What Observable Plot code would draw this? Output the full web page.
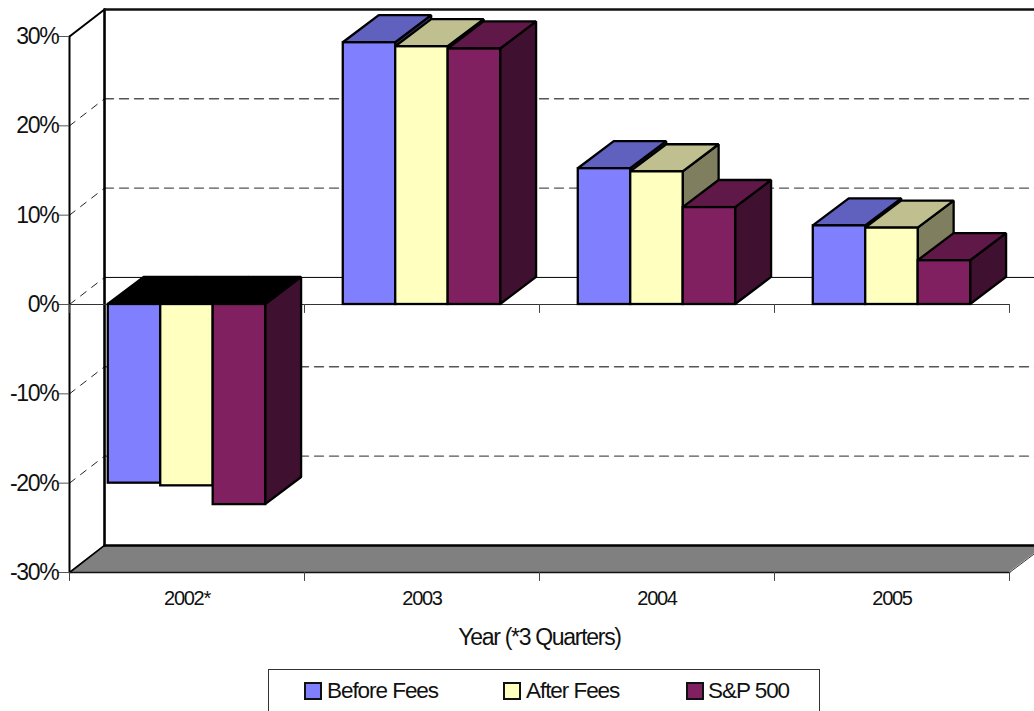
<!DOCTYPE html>
<html>
<head>
<meta charset="utf-8">
<script src="https://cdn.jsdelivr.net/npm/d3@7"></script>
<script src="https://cdn.jsdelivr.net/npm/@observablehq/plot@0.6"></script>
<style>
html,body{margin:0;padding:0;background:#fff;overflow:hidden}
svg{display:block}
#legend{position:relative;box-sizing:border-box;margin:9px 0 0 268px;width:552px;height:50px;border:1px solid #333;
  font-family:"Liberation Sans",Arial,sans-serif;font-size:22.5px;letter-spacing:-1.05px;color:#111}
#legend i{position:absolute;top:12px;width:14px;height:14px;border:2px solid #111;display:block}
#legend span{position:absolute;top:8px;line-height:26px;white-space:nowrap}
</style>
</head>
<body>
<div id="chart"></div>
<div id="legend"></div>
<script>
const years = ["2002*", "2003", "2004", "2005"];
const beforeFees = [-20.0, 29.3, 15.2, 8.8];
const afterFees = [-20.3, 28.85, 14.85, 8.55];
const sp500 = [-22.4, 28.6, 10.85, 4.9];
const seriesNames = ["Before Fees", "After Fees", "S&P 500"];
const yTicks = [-30, -20, -10, 0, 10, 20, 30];
const colors = [
  {front: "#8080FF", top: "#6060BF", side: "#40407F"},
  {front: "#FFFFC0", top: "#BFBF90", side: "#7F7F60"},
  {front: "#802060", top: "#601848", side: "#401030"}
];

// oblique depth of the 3-D projection, in x-scale and y-scale units
const dx = 0.153, dy = 3.03, wallDx = 0.149;
const barW = 0.2232, gap = 0.165;
const series = [beforeFees, afterFees, sp500];
const bars = years.flatMap((yr, i) => series.map((vals, s) => ({
  x1: i + gap + s * barW,
  x2: i + gap + (s + 1) * barW,
  high: Math.max(0, vals[i]),
  low: Math.min(0, vals[i]),
  neg: vals[i] < 0,
  s
})));

const seg = (x1, y1, x2, y2, o) =>
  Plot.line([[x1, y1], [x2, y2]], {x: d => d[0], y: d => d[1], ...o});

const backGrid = yTicks.filter(v => v > -30 && v < 30);
const xEdges = [0, 1, 2, 3, 4];

const marks = [
  // floor
  Plot.areaX([{y: -30, a: 0, b: 4}, {y: -30 + dy, a: wallDx, b: 4 + dx}],
    {y: "y", x1: "a", x2: "b", fill: "#808080"}),
  // back-wall gridlines
  ...backGrid.filter(v => v !== 0).map(v => seg(wallDx, v + dy, 4.2, v + dy,
    {stroke: "#555", strokeWidth: 1.4, strokeDasharray: "9,6"})),
  seg(wallDx, dy, 4.2, dy, {stroke: "#000", strokeWidth: 1}),
  // side-wall gridlines
  ...backGrid.map(v => seg(0, v, wallDx, v + dy,
    {stroke: "#222", strokeWidth: 1, strokeDasharray: "7,7"})),
  // walls
  seg(0, -30, 0, 30, {stroke: "#000", strokeWidth: 2}),
  seg(wallDx, -30 + dy, wallDx, 30 + dy, {stroke: "#000", strokeWidth: 2.6}),
  seg(0, 30, wallDx, 30 + dy, {stroke: "#000", strokeWidth: 2}),
  seg(wallDx, 30 + dy, 4.2, 30 + dy, {stroke: "#111", strokeWidth: 2.4}),
  seg(wallDx, -30 + dy, 4.2, -30 + dy, {stroke: "#000", strokeWidth: 2.4}),
  seg(0, -30, wallDx, -30 + dy, {stroke: "#000", strokeWidth: 1.6}),
  seg(4, -30, 4 + dx, -30 + dy, {stroke: "#333", strokeWidth: 1}),
  seg(0, -30, 4, -30, {stroke: "#111", strokeWidth: 1.6}),
  // zero line and x ticks
  seg(0, 0, 4, 0, {stroke: "#333", strokeWidth: 1.2}),
  Plot.ruleX(xEdges, {y1: 0, y2: -1, stroke: "#444", strokeWidth: 1}),
  Plot.ruleX(xEdges, {y1: -30, y2: -31, stroke: "#444", strokeWidth: 1}),
  // bars, drawn left to right so each front covers the previous side
  ...bars.flatMap(b => {
    const c = colors[b.s];
    const edge = {stroke: "#000", strokeWidth: 2.3, strokeLinejoin: "miter"};
    return [
      Plot.areaY([{x: b.x2, l: b.low, h: b.high}, {x: b.x2 + dx, l: b.low + dy, h: b.high + dy}],
        {x: "x", y1: "l", y2: "h", fill: c.side, ...edge}),
      Plot.areaX([{y: b.high, a: b.x1, z: b.x2}, {y: b.high + dy, a: b.x1 + dx, z: b.x2 + dx}],
        {y: "y", x1: "a", x2: "z", fill: b.neg ? "#000" : c.top, ...edge}),
      Plot.rect([b], {x1: "x1", x2: "x2", y1: "low", y2: "high", fill: c.front, ...edge})
    ];
  }),
  // y axis
  Plot.axisY(yTicks, {
    anchor: "left", label: null, tickSize: 11, tickPadding: 0, stroke: "#555",
    tickFormat: d => d + "%", fontSize: 23, fill: "#111"
  }),
  // category labels and axis title
  Plot.text(years, {
    x: (d, i) => i + 0.5, y: () => -30, text: d => d, dy: 26.5,
    fontSize: 20, fill: "#111", lineAnchor: "middle"
  }),
  Plot.text(["Year (*3 Quarters)"], {
    x: () => 2, y: () => -30, text: d => d, dy: 65,
    fontSize: 23, fill: "#111", lineAnchor: "middle"
  })
];

const plot = Plot.plot({
  width: 1034,
  height: 660,
  marginLeft: 69,
  marginRight: 25,
  marginTop: 36,
  marginBottom: 88,
  x: {type: "linear", domain: [0, 4], axis: null},
  y: {type: "linear", domain: [-30, 30], axis: null},
  style: {fontFamily: "'Liberation Sans', Arial, sans-serif", letterSpacing: "-1.3px", background: "#fff", overflow: "hidden"},
  marks
});
document.getElementById("chart").append(plot);

const legend = document.getElementById("legend");
const swatchLeft = [35, 234, 417];
const textLeft = [58, 257, 439];
seriesNames.forEach((name, s) => {
  const i = document.createElement("i");
  i.style.left = swatchLeft[s] + "px";
  i.style.background = colors[s].front;
  const t = document.createElement("span");
  t.style.left = textLeft[s] + "px";
  t.textContent = name;
  legend.append(i, t);
});
</script>
</body>
</html>
